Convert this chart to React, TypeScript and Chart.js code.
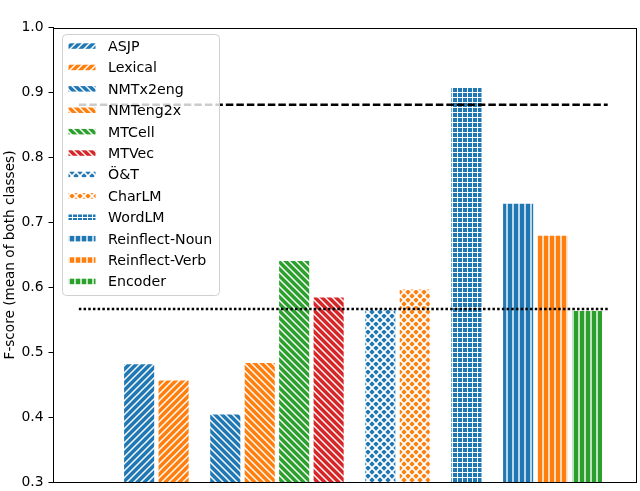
import { useEffect, useRef } from 'react';
import { Chart, registerables } from 'chart.js';

Chart.register(...registerables);

// ---- data ----
const methods = ['ASJP', 'Lexical', 'NMTx2eng', 'NMTeng2x', 'MTCell', 'MTVec', 'Ö&T', 'CharLM', 'WordLM', 'Reinflect-Noun', 'Reinflect-Verb', 'Encoder'];
const positions = [0, 1, 2.5, 3.5, 4.5, 5.5, 7, 8, 9.5, 11, 12, 13];
const scores = [0.483, 0.458, 0.406, 0.485, 0.642, 0.586, 0.567, 0.598, 0.909, 0.730, 0.681, 0.565];
const colors = ['#1f77b4', '#ff7f0e', '#1f77b4', '#ff7f0e', '#2ca02c', '#d62728', '#1f77b4', '#ff7f0e', '#1f77b4', '#1f77b4', '#ff7f0e', '#2ca02c'];
const hatches = ['/', '/', '\\', '\\', '\\', '\\', 'x', 'x', '+', '|', '|', '|'];
const yTickValues = [0.3, 0.4, 0.5, 0.6, 0.7, 0.8, 0.9, 1.0];
const refNames = ['upper reference', 'lower reference'];
const refValues = [0.881, 0.567];
const refSpan = [-1.75, 13.6];
const yTitle = 'F-score (mean of both classes)';

const FONT = '"DejaVu Sans", sans-serif';

function makePattern(color: string, hatch: string): CanvasPattern | string {
  const s = hatch === '+' ? 5 : hatch === '|' ? 6 : hatch === 'x' ? 8 : 7;
  const c = document.createElement('canvas');
  c.width = s;
  c.height = s;
  const g = c.getContext('2d');
  if (!g) return color;
  g.fillStyle = color;
  g.fillRect(0, 0, s, s);
  g.strokeStyle = '#ffffff';
  g.fillStyle = '#ffffff';
  g.lineWidth = hatch === 'x' ? 1.8 : 1.4;
  const diag = (dir: number) => {
    for (let k = -1; k <= 1; k++) {
      g.beginPath();
      if (dir > 0) {
        g.moveTo(k * s - 1, s + 1);
        g.lineTo(k * s + s + 1, -1);
      } else {
        g.moveTo(k * s - 1, -1);
        g.lineTo(k * s + s + 1, s + 1);
      }
      g.stroke();
    }
  };
  if (hatch === '/') diag(1);
  else if (hatch === '\\') diag(-1);
  else if (hatch === 'x') {
    diag(1);
    diag(-1);
  } else if (hatch === '|') {
    g.fillRect(s / 2 - 0.7, 0, 1.4, s);
  } else if (hatch === '+') {
    g.fillRect(s / 2 - 0.5, 0, 1, s);
    g.fillRect(0, s / 2 - 0.5, s, 1);
  }
  const p = g.createPattern(c, 'repeat');
  return p || color;
}

const framePlugin = {
  id: 'frame',
  afterDatasetsDraw(chart: any) {
    const { left, top, right, bottom } = chart.chartArea;
    const ctx = chart.ctx;
    ctx.save();
    ctx.strokeStyle = '#000';
    ctx.lineWidth = 1;
    const l = Math.round(left) + 0.5;
    const t = Math.round(top) + 0.5;
    const r = Math.round(right) - 0.5;
    const b = Math.round(bottom) - 0.5;
    ctx.strokeRect(l, t, r - l, b - t);
    ctx.restore();
  },
};

const legendPlugin = {
  id: 'boxLegend',
  afterDraw(chart: any) {
    const ctx = chart.ctx;
    const items = chart.data.datasets.filter((d: any) => d.type === 'bar');
    ctx.save();
    const x0 = 62.5, y0 = 34.5, w = 157, h = 261;
    ctx.beginPath();
    if ((ctx as any).roundRect) (ctx as any).roundRect(x0, y0, w, h, 4);
    else ctx.rect(x0, y0, w, h);
    ctx.fillStyle = 'rgba(255,255,255,0.8)';
    ctx.fill();
    ctx.strokeStyle = '#d0d0d0';
    ctx.lineWidth = 1;
    ctx.stroke();
    ctx.font = `14.2px ${FONT}`;
    ctx.textBaseline = 'alphabetic';
    ctx.textAlign = 'left';
    items.forEach((d: any, i: number) => {
      const cy = 45.8 + i * 21.4;
      ctx.fillStyle = d.backgroundColor;
      ctx.fillRect(68.5, cy - 2.5, 27, 5.5);
      ctx.fillStyle = '#000';
      ctx.fillText(d.label, 108, cy + 5.2);
    });
    ctx.restore();
  },
};

export default function App() {
  const ref = useRef<HTMLCanvasElement | null>(null);

  useEffect(() => {
    if (!ref.current) return;
    const lineSets = refValues.map((v, i) => ({
      type: 'line' as const,
      label: refNames[i],
      data: refSpan.map((x) => ({ x, y: v })),
      borderColor: '#000',
      borderWidth: 2.5,
      borderDash: i === 0 ? [7.5, 3] : [2.5, 2.2],
      pointRadius: 0,
      fill: false,
      order: 0,
    }));
    const barSets = methods.map((m, i) => ({
      type: 'bar' as const,
      label: m,
      data: [{ x: positions[i], y: scores[i] }],
      backgroundColor: makePattern(colors[i], hatches[i]),
      borderColor: '#ffffff',
      borderWidth: 0.8,
      grouped: false,
      barPercentage: 0.92,
      categoryPercentage: 1,
      order: 1,
    }));

    const chart = new Chart(ref.current, {
      type: 'bar',
      data: { datasets: [...lineSets, ...barSets] as any },
      options: {
        animation: false,
        responsive: false,
        devicePixelRatio: 1,
        layout: { padding: { left: 0, top: 27.5, right: 3, bottom: 8.5 } },
        plugins: {
          legend: { display: false },
          tooltip: { enabled: false },
        },
        scales: {
          x: {
            type: 'linear',
            min: -2.5,
            max: 14.45,
            offset: false,
            display: false,
            afterBuildTicks: (s: any) => {
              s.ticks = positions.filter((p) => Number.isInteger(p)).map((p) => ({ value: p }));
            },
          },
          y: {
            type: 'linear',
            min: 0.3,
            max: 1.0,
            afterFit: (s: any) => {
              s.width = 53;
              s.paddingTop = 8;
              s.paddingBottom = 8;
            },
            afterBuildTicks: (s: any) => {
              s.ticks = yTickValues.map((v) => ({ value: v }));
            },
            ticks: {
              color: '#000',
              font: { family: FONT, size: 13.9 },
              padding: 5,
              callback: (v: any) => Number(v).toFixed(1),
            },
            grid: {
              drawOnChartArea: false,
              drawTicks: true,
              tickLength: 4.5,
              tickColor: '#000',
            },
            border: { display: true, color: '#000', width: 1 },
            title: {
              display: true,
              text: yTitle,
              color: '#000',
              font: { family: FONT, size: 13.6 },
              padding: { top: 2, bottom: 0 },
            },
          },
        },
      } as any,
      plugins: [framePlugin, legendPlugin],
    });
    return () => chart.destroy();
  }, []);

  return (
    <div style={{ position: 'fixed', left: 0, top: 0, width: 640, height: 491, background: '#fff' }}>
      <canvas ref={ref} width={640} height={491} style={{ display: 'block', width: 640, height: 491 }} />
    </div>
  );
}
